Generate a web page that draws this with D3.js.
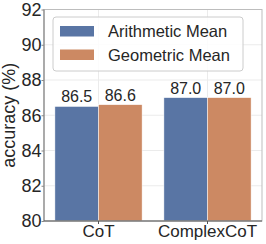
<!DOCTYPE html>
<meta charset="utf-8" />
<style>
  body { margin: 0; background: #fff; }
  text { font-family: "Liberation Sans", Arial, sans-serif; fill: #262626; }
</style>
<body>
<svg width="266" height="244"></svg>
<script src="https://d3js.org/d3.v7.min.js"></script>
<script>
  const categories = ["CoT", "ComplexCoT"];
  const series = ["Arithmetic Mean", "Geometric Mean"];
  const values = {
    "Arithmetic Mean": [86.5, 87.0],
    "Geometric Mean": [86.6, 87.0]
  };
  const yTicks = [80, 82, 84, 86, 88, 90, 92];
  const colors = ["#5975a4", "#cc8963"];

  const svg = d3.select("svg");
  const m = { left: 44, right: 262, top: 9.5, bottom: 221 };

  const x = d3.scaleBand().domain(categories).range([m.left, m.right]).padding(0);
  const xs = d3.scaleBand().domain(series).range([0, x.bandwidth() * 0.8]);
  const y = d3.scaleLinear().domain([80, 92]).range([m.bottom, m.top]);

  // grid
  svg.append("g").selectAll("line.h").data(yTicks).enter().append("line")
    .attr("x1", m.left).attr("x2", m.right)
    .attr("y1", d => y(d)).attr("y2", d => y(d))
    .attr("stroke", "#ebebeb").attr("stroke-width", 1);
  svg.append("g").selectAll("line.v").data(categories).enter().append("line")
    .attr("x1", d => x(d) + x.bandwidth() / 2).attr("x2", d => x(d) + x.bandwidth() / 2)
    .attr("y1", m.top).attr("y2", m.bottom)
    .attr("stroke", "#ebebeb").attr("stroke-width", 1);

  // bars
  series.forEach((s, i) => {
    svg.append("g").selectAll("rect").data(categories).enter().append("rect")
      .attr("x", d => x(d) + x.bandwidth() * 0.1 + xs(s))
      .attr("width", xs.bandwidth())
      .attr("y", (d, j) => y(values[s][j]))
      .attr("height", (d, j) => m.bottom - y(values[s][j]))
      .attr("fill", colors[i])
      .attr("stroke", "#fff").attr("stroke-width", 0.5);

    svg.append("g").selectAll("text").data(categories).enter().append("text")
      .attr("x", d => x(d) + x.bandwidth() * 0.1 + xs(s) + xs.bandwidth() / 2)
      .attr("y", (d, j) => y(values[s][j]) - 4)
      .attr("text-anchor", "middle")
      .style("font-size", "16px")
      .text((d, j) => values[s][j].toFixed(1));
  });

  // frame
  svg.append("rect")
    .attr("x", m.left).attr("y", m.top)
    .attr("width", m.right - m.left).attr("height", m.bottom - m.top)
    .attr("fill", "none").attr("stroke", "#bdbdbd").attr("stroke-width", 1);
  svg.append("line").attr("x1", m.left).attr("x2", m.left).attr("y1", m.top).attr("y2", m.bottom)
    .attr("stroke", "#888").attr("stroke-width", 1.2);
  svg.append("line").attr("x1", m.left).attr("x2", m.right).attr("y1", m.bottom).attr("y2", m.bottom)
    .attr("stroke", "#555").attr("stroke-width", 1.2);

  // y axis
  const yAxis = d3.axisLeft(y).tickValues(yTicks).tickSize(2.5).tickPadding(0);
  const gy = svg.append("g").attr("transform", `translate(${m.left},0)`).call(yAxis);
  gy.select(".domain").remove();
  gy.selectAll(".tick line").attr("stroke", "#888");
  gy.selectAll(".tick text").style("font-size", "18px").attr("fill", "#262626")
    .style("font-family", '"Liberation Sans", Arial, sans-serif');

  // x axis
  const xAxis = d3.axisBottom(x).tickSize(3).tickPadding(1);
  const gx = svg.append("g").attr("transform", `translate(0,${m.bottom})`).call(xAxis);
  gx.select(".domain").remove();
  gx.selectAll(".tick line").attr("stroke", "#555");
  gx.selectAll(".tick text").style("font-size", "17px").attr("fill", "#262626")
    .style("font-family", '"Liberation Sans", Arial, sans-serif');

  // y label
  svg.append("text")
    .attr("transform", `translate(15,${(m.top + m.bottom) / 2}) rotate(-90)`)
    .attr("text-anchor", "middle")
    .style("font-size", "18px")
    .text("accuracy (%)");

  // legend
  const lg = svg.append("g");
  lg.append("rect").attr("x", 53).attr("y", 17).attr("width", 190).attr("height", 54)
    .attr("rx", 3).attr("fill", "#fff").attr("fill-opacity", 0.85)
    .attr("stroke", "#cccccc").attr("stroke-width", 1);
  series.forEach((s, i) => {
    lg.append("rect").attr("x", 60).attr("y", 26 + i * 23.5).attr("width", 34).attr("height", 10.5)
      .attr("fill", colors[i]);
    lg.append("text").attr("x", 108).attr("y", 37 + i * 23.5)
      .style("font-size", "16.5px").text(s);
  });
</script>
</body>
